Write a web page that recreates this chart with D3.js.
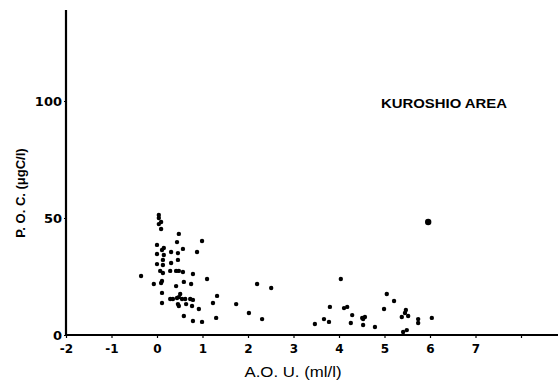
<!DOCTYPE html>
<html><head><meta charset="utf-8">
<script src="https://cdn.jsdelivr.net/npm/d3@7/dist/d3.min.js"></script>
<style>html,body{margin:0;padding:0;background:#fff;}svg{display:block;}</style>
</head><body>
<script>
const aou = [0.04,0.04,0.09,0.04,0.09,0.48,0.99,0.44,0.0,0.11,0.15,0.57,0.88,0.31,0.46,0.0,0.15,0.13,0.46,0.31,0.0,0.13,0.07,0.13,0.29,0.42,0.48,0.57,0.79,-0.35,1.10,0.11,-0.07,0.09,0.59,0.75,0.42,0.11,0.51,0.48,1.32,0.29,0.35,0.44,0.55,0.62,0.73,0.79,0.11,0.46,0.48,0.64,0.77,1.23,0.92,0.59,0.79,0.99,1.30,
 2.20,2.51,1.74,2.02,2.31,
 5.96,4.04,5.05,5.21,3.80,4.11,4.18,4.99,5.47,5.45,4.29,5.38,5.52,3.67,3.78,4.51,4.57,4.53,5.74,5.74,6.04,4.26,4.53,4.79,5.41,5.49,3.47];
const poc = [51.3,50.0,48.3,47.4,45.3,43.2,40.2,39.7,38.5,36.3,37.2,36.8,35.5,35.5,35.0,34.6,34.2,32.1,32.1,30.8,30.3,29.9,27.4,26.5,27.4,27.4,27.4,26.9,26.1,25.2,23.9,23.1,21.8,22.2,22.7,21.8,20.9,18.0,17.5,16.2,16.7,15.4,15.4,15.8,15.4,15.4,15.4,15.0,13.7,13.2,12.4,13.2,12.4,13.7,11.1,8.1,6.0,5.6,7.3,
 21.8,20.1,13.2,9.4,6.8,
 48.3,23.9,17.5,14.5,12.0,11.5,12.0,11.1,10.7,9.4,8.5,7.7,8.1,6.8,5.6,7.3,7.7,6.8,6.8,5.1,7.3,5.1,4.3,3.4,1.3,2.1,4.7];
const xTicks = [-2,-1,0,1,2,3,4,5,6,7,8];
const xTickLabels = ["-2","-1","0","1","2","3","4","5","6","7",""];
const yTicks = [0,50,100];
const yTickLabels = ["0","50","100"];
const areaLabel = "KUROSHIO AREA";
const xTitle = "A.O. U. (ml/l)";
const yTitle = "P. O. C. (\u03bcgC/l)";

const W = 559, H = 383;
const svg = d3.select("body").append("svg").attr("width", W).attr("height", H);
const x = d3.scaleLinear().domain([-2, 8]).range([66, 521]);
const y = d3.scaleLinear().domain([0, 100]).range([335, 101]);
const font = "'Liberation Sans', Arial, sans-serif";
const tickFont = "'DejaVu Sans', sans-serif";

// axes
const xAxis = d3.axisBottom(x).tickValues(xTicks).tickSize(3)
  .tickFormat((d,i) => xTickLabels[i]);
const gx = svg.append("g").attr("transform", `translate(0,${y(0)})`).call(xAxis);
gx.select(".domain").remove();
gx.append("line").attr("x1", x(-2)).attr("x2", 558).attr("y1", 0).attr("y2", 0)
  .attr("stroke", "#000").attr("stroke-width", 2);
gx.selectAll(".tick line").attr("stroke", "#000").attr("stroke-width", 1.2);
gx.selectAll(".tick text").style("font-family", tickFont).style("font-weight", "bold")
  .style("font-size", "12px").attr("fill", "#000").attr("dy", "1em");

const yAxis = d3.axisLeft(y).tickValues(yTicks).tickSize(2)
  .tickFormat((d,i) => yTickLabels[i]);
const gy = svg.append("g").attr("transform", `translate(${x(-2)},0)`).call(yAxis);
gy.select(".domain").remove();
gy.append("line").attr("x1", 0).attr("x2", 0).attr("y1", y(0) + 1).attr("y2", 10)
  .attr("stroke", "#000").attr("stroke-width", 2.2);
gy.selectAll(".tick line").attr("stroke", "#000").attr("stroke-width", 1.2);
gy.selectAll(".tick text").style("font-family", tickFont).style("font-weight", "bold")
  .style("font-size", "13px").attr("fill", "#000").attr("x", -4);

// points
svg.append("g").selectAll("circle").data(aou.map((d,i) => [d, poc[i]]))
  .join("circle")
  .attr("cx", d => x(d[0])).attr("cy", d => y(d[1]))
  .attr("r", d => d[0] > 5.9 && d[1] > 40 ? 3.2 : 2.2)
  .attr("fill", "#000");

// texts
svg.append("text").attr("x", 444).attr("y", 108).attr("text-anchor", "middle")
  .style("font-family", font).style("font-weight", "bold").style("font-size", "12.5px")
  .attr("textLength", 126).attr("lengthAdjust", "spacingAndGlyphs")
  .text(areaLabel);
svg.append("text").attr("x", 293).attr("y", 377).attr("text-anchor", "middle")
  .style("font-family", font).style("font-size", "14px").attr("fill", "#000")
  .attr("textLength", 97).attr("lengthAdjust", "spacingAndGlyphs")
  .text(xTitle);
svg.append("text").attr("transform", "translate(25,193) rotate(-90)")
  .attr("text-anchor", "middle").style("font-family", font).style("font-weight", "bold")
  .style("font-size", "13px").attr("fill", "#000").text(yTitle);
</script>
</body></html>
